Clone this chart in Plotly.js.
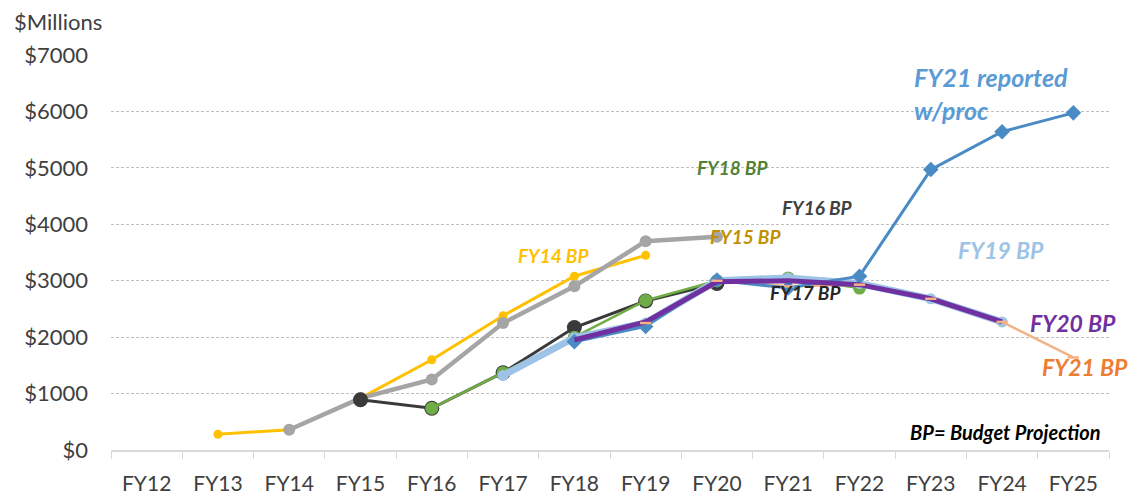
<!DOCTYPE html>
<html>
<head>
<meta charset="utf-8">
<script src="https://cdn.plot.ly/plotly-3.0.1.min.js"></script>
<style>html,body{margin:0;padding:0;background:#fff;}#chart{width:1135px;height:496px;}</style>
</head>
<body>
<div id="chart"></div>
<script>
const categories = ["FY12","FY13","FY14","FY15","FY16","FY17","FY18","FY19","FY20","FY21","FY22","FY23","FY24","FY25"];

const fy14X = ["FY13","FY14","FY15","FY16","FY17","FY18","FY19"];
const fy14Y = [280, 360, 920, 1600, 2380, 3080, 3450];

const fy15X = ["FY14","FY15","FY16","FY17","FY18","FY19","FY20"];
const fy15Y = [360, 920, 1250, 2250, 2900, 3700, 3780];

const fy16X = ["FY15","FY16","FY17","FY18","FY19","FY20"];
const fy16Y = [890, 740, 1370, 2170, 2640, 2950];

const fy18X = ["FY16","FY17","FY18","FY19","FY20","FY21","FY22"];
const fy18Y = [740, 1370, 2000, 2650, 3000, 3050, 2870];

const fy19X = ["FY17","FY18","FY19","FY20","FY21","FY22","FY23","FY24"];
const fy19Y = [1320, 1990, 2250, 3000, 3050, 2950, 2680, 2270];

const fy21rX = ["FY18","FY19","FY20","FY21","FY22","FY23","FY24","FY25"];
const fy21rY = [1920, 2190, 3010, 2870, 3080, 4970, 5640, 5975];

const fy20X = ["FY18","FY19","FY20","FY21","FY22","FY23","FY24"];
const fy20Y = [1950, 2270, 2980, 3000, 2930, 2680, 2270];

const fy21X = ["FY19","FY20","FY21","FY22","FY23","FY24","FY25"];
const fy21Y = [2250, 3000, 2900, 2930, 2680, 2270, 1640];

const yTicks = [0,1000,2000,3000,4000,5000,6000,7000];
const yTickText = yTicks.map(v => "$" + v);

const FONT = "Lato, 'Open Sans', sans-serif";

const traces = [
  {x: fy14X, y: fy14Y, name:"FY14 BP", mode:"lines+markers", line:{color:"#FFC000", width:3}, marker:{color:"#FFC000", size:9}},
  {x: fy15X, y: fy15Y, name:"FY15 BP", mode:"lines+markers", line:{color:"#A5A5A5", width:4.5}, marker:{color:"#A5A5A5", size:12}},
  {x: fy16X, y: fy16Y, name:"FY16 BP", mode:"lines+markers", line:{color:"#3A3A3A", width:3}, marker:{color:"#3A3A3A", size:15}},
  {x: fy18X, y: fy18Y, name:"FY18 BP", mode:"lines+markers", line:{color:"#70AD47", width:2.5}, marker:{color:"#70AD47", size:13}},
  {x: fy19X, y: fy19Y, name:"FY19 BP", mode:"lines+markers", line:{color:"#9DC3E6", width:7}, marker:{color:"#9DC3E6", size:11}},
  {x: fy21X, y: fy21Y, name:"FY21 BP", mode:"lines", line:{color:"#F4B183", width:2.5}},
  {x: fy21rX, y: fy21rY, name:"FY21 reported w/proc", mode:"lines+markers", line:{color:"#4A8BC6", width:3}, marker:{color:"#4A8BC6", size:12, symbol:"diamond"}},
  {x: fy20X, y: fy20Y, name:"FY20 BP", mode:"lines", line:{color:"#7030A0", width:5}},
  {x: fy21X, y: fy21Y, name:"FY21 BP", mode:"markers", marker:{color:"#F4B183", size:8, symbol:"line-ew", line:{color:"#F4B183", width:2.5}}}
];

const lab = (text, x, y, color, size, anchor) => ({text:"<b><i>"+text+"</i></b>", x:x, y:y, xref:"x", yref:"y", showarrow:false, font:{family:FONT, size:size, color:color}, xanchor:anchor||"center", yanchor:"middle", align:"left"});

const layout = {
  width:1135, height:496,
  margin:{l:111, r:26, t:55, b:46},
  paper_bgcolor:"#ffffff", plot_bgcolor:"#ffffff",
  showlegend:false,
  font:{family:FONT, color:"#404040"},
  xaxis:{type:"category", categoryorder:"array", categoryarray:categories, range:[-0.5,13.5],
    tickson:"boundaries", ticks:"outside", ticklen:7, tickcolor:"#D9D9D9", ticklabelstandoff:14,
    showline:true, linecolor:"#D9D9D9", linewidth:1.5, showgrid:false, zeroline:false,
    tickfont:{size:21, color:"#404040", family:FONT}, fixedrange:true},
  yaxis:{range:[0,7000], tickvals:yTicks, ticktext:yTickText,
    showgrid:true, gridcolor:"#BFBFBF", griddash:"3px,2px", gridwidth:1, zeroline:false,
    ticks:"", ticklabelstandoff:22, tickfont:{size:22, color:"#404040", family:FONT}, showline:false, fixedrange:true},
  annotations:[
    {text:"$Millions", xref:"paper", yref:"paper", x:-0.099, y:1.086, xanchor:"left", yanchor:"middle", showarrow:false, font:{size:22, color:"#404040", family:FONT}},
    lab("FY14 BP", 5.71, 3455, "#FFC000", 19),
    lab("FY15 BP", 8.40, 3792, "#BF9000", 19),
    lab("FY16 BP", 9.41, 4289, "#404040", 19),
    lab("FY18 BP", 8.22, 5015, "#548235", 19),
    lab("FY17 BP", 9.24, 2800, "#262626", 19),
    lab("FY19 BP", 11.99, 3544, "#9DC3E6", 23),
    lab("FY20 BP", 12.99, 2251, "#7030A0", 23),
    lab("FY21 BP", 13.17, 1471, "#ED7D31", 23),
    lab("FY21 reported<br>w/proc", 10.73, 6309, "#5B9BD5", 25, "left"),
    lab("BP= Budget Projection", 12.05, 319, "#000000", 20)
  ]
};

Plotly.newPlot("chart", traces, layout, {displayModeBar:false, staticPlot:true});
</script>
</body>
</html>
